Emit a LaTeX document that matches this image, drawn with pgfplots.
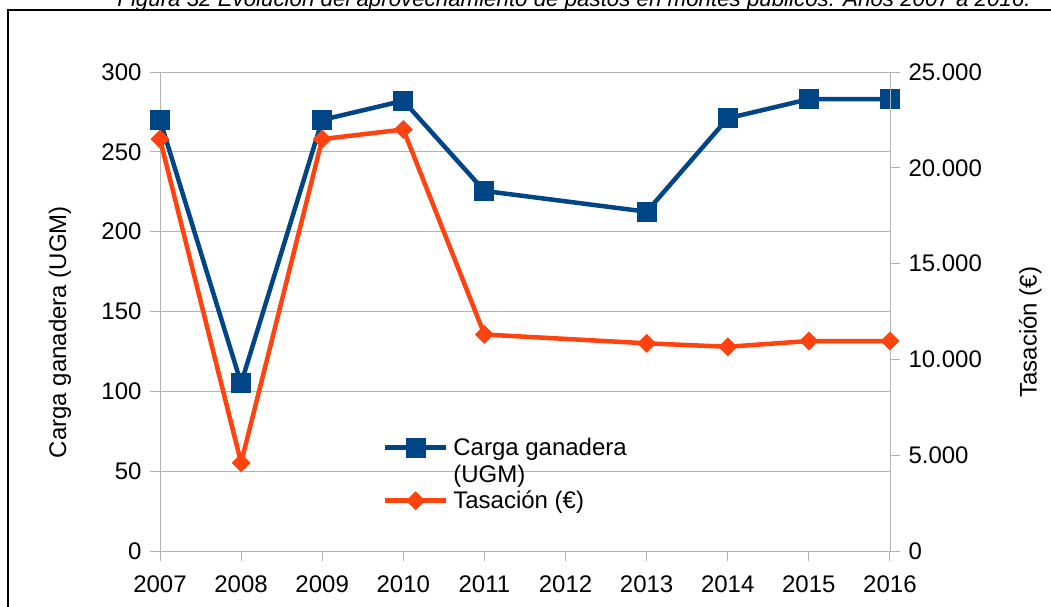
\documentclass[border=0pt]{standalone}
\usepackage{pgfplots}
\pgfplotsset{compat=1.18}
\usepackage{fontspec}
\setmainfont{Liberation Sans}
\definecolor{cblue}{HTML}{004586}
\definecolor{corange}{HTML}{FF420E}
\definecolor{cgrid}{HTML}{B3B3B3}
\begin{document}
\begin{tikzpicture}[x=1pt,y=1pt]
\useasboundingbox (0,0) rectangle (1051,-606);
\clip (0,0) rectangle (1051,-606);
\node[anchor=base, inner sep=0pt, font=\fontsize{22.3}{26}\selectfont\itshape] at (574,-6) {Figura 32 Evolución del aprovechamiento de pastos en montes públicos. Años 2007 a 2016.};
\draw[line width=1.5pt] (8,-700) -- (8,-10) -- (1100,-10);
\pgfplotsset{every axis/.append style={
  scale only axis, width=730pt, height=479pt, at={(160pt,-551pt)}, anchor=south west,
  xmin=2007, xmax=2016,
  tick label style={font=\fontsize{24}{28}\selectfont},
  label style={font=\fontsize{24}{28}\selectfont},
  /pgf/number format/assume math mode=true,
  tick align=outside, major tick length=10pt,
  every tick/.style={cgrid, line width=1pt},
  axis line style={cgrid, line width=1pt},
  clip=false,
}}
\begin{axis}[
  axis x line*=bottom, axis y line*=left,
  ymin=0, ymax=300, ytick={0,50,...,300},
  xtick={2007,...,2016},
  xticklabel style={/pgf/number format/1000 sep={}, yshift=-11pt},
  yticklabel style={xshift=-5pt},
  ymajorgrids, grid style={cgrid, line width=1pt},
  ylabel={Carga ganadera (UGM)},
  ylabel style={at={(axis description cs:-0.137,0.457)}, anchor=center},
]
\addplot[cblue, line width=4.5pt, mark=square*, mark size=9.5pt, mark options={solid, line width=1pt}] coordinates {
(2007,270) (2008,105) (2009,270) (2010,282) (2011,225.5) (2013,212.5) (2014,271) (2015,283) (2016,283)};
\end{axis}
\begin{axis}[
  axis y line*=right, axis x line=none,
  ymin=0, ymax=25000, ytick={0,5000,...,25000},
  scaled y ticks=false,
  yticklabel style={/pgf/number format/fixed, /pgf/number format/1000 sep={.}, xshift=5pt},
  ylabel={Tasación (€)},
  ylabel style={at={(axis description cs:1.192,0.457)}, anchor=center},
  legend style={at={(axis description cs:0.305,0.240)}, anchor=north west, draw=none, fill=none,
    font=\fontsize{24}{27}\selectfont, cells={anchor=west}, row sep=30pt, column sep=3pt, inner sep=0pt},
  legend image code/.code={\draw[mark repeat=2, mark phase=2, #1] plot coordinates {(0pt,0pt) (30.5pt,0pt) (61pt,0pt)};},
]
\addlegendimage{cblue, line width=4.5pt, mark=square*, mark size=9.5pt, mark options={solid, line width=1pt}}
\addlegendentry{\vtop{\hbox{Carga ganadera}\hbox{(UGM)}}}
\addplot[corange, line width=4.5pt, mark=square*, mark size=6.2pt, mark options={solid, rotate=45, line width=1pt}] coordinates {
(2007,21500) (2008,4600) (2009,21500) (2010,22000) (2011,11300) (2013,10840) (2014,10660) (2015,10960) (2016,10960)};
\addlegendentry{Tasación (€)}
\end{axis}
\end{tikzpicture}
\end{document}
